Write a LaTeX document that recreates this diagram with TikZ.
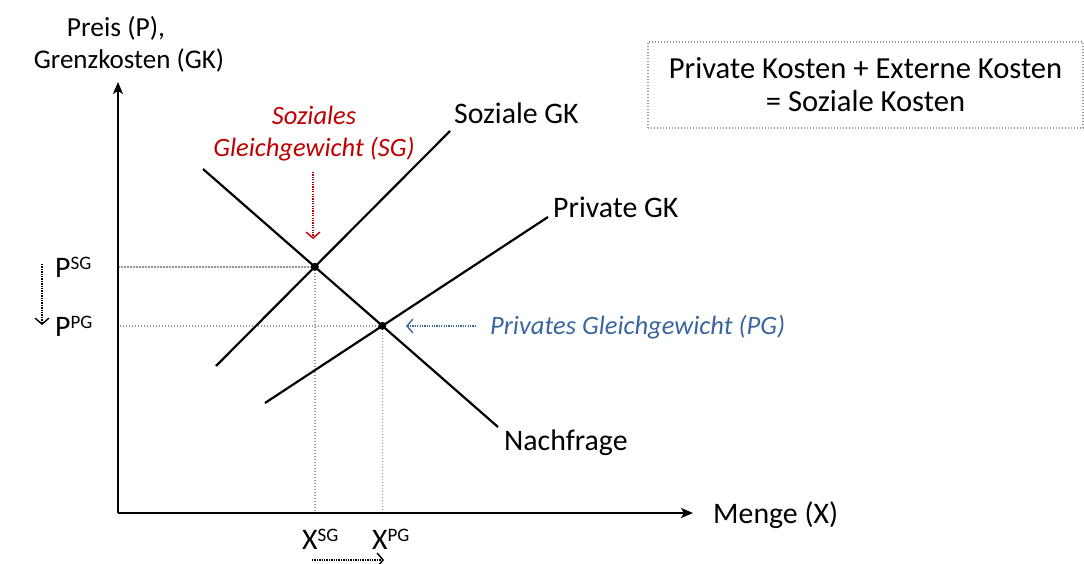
\documentclass[tikz,border=0pt]{standalone}
\usepackage{fontspec}
\setmainfont{Carlito}
\usetikzlibrary{arrows.meta}
\definecolor{sgred}{RGB}{192,0,0}
\definecolor{pgblue}{RGB}{58,102,160}
\definecolor{guidegray}{RGB}{150,150,150}
% superscript in the style of the labels
\newcommand\hochtext[1]{\raisebox{8pt}{\fontsize{19}{19}\selectfont #1}}
\begin{document}
\begin{tikzpicture}[x=1pt,y=-1pt,
  lbl/.style={inner sep=0pt,font=\fontsize{29.8}{32.5}\selectfont},
  note/.style={inner sep=0pt,font=\fontsize{26.5}{32}\selectfont\itshape},
  axis/.style={line width=1.8pt,-{Stealth[length=12pt,width=10pt,inset=3pt]}},
  curve/.style={line width=2.2pt},
  guide/.style={draw=guidegray,line width=1.4pt,dash pattern=on 1.4pt off 1.6pt},
  hint/.style={line width=1.3pt,dash pattern=on 1.3pt off 1.1pt,-{Straight Barb[length=6pt,width=14pt,line width=1.4pt]}},
  eq/.style={circle,fill=black,inner sep=0pt,minimum size=8pt}]
\useasboundingbox (0,0) rectangle (1084,564);

% axes and curve end points
\coordinate (O) at (118,513);
\coordinate (ytop) at (118,82);
\coordinate (xend) at (693,513);
\coordinate (sA) at (216,366); \coordinate (sB) at (450,131);
\coordinate (pA) at (265,403); \coordinate (pB) at (548,217);
\coordinate (dA) at (203,169); \coordinate (dB) at (498,427);

% equilibria
\coordinate (SG) at (intersection of sA--sB and dA--dB);
\coordinate (PG) at (intersection of pA--pB and dA--dB);

% guide lines to the axes
\draw[guide] (SG) -- (SG -| O);
\draw[guide] (PG) -- (PG -| O);
\draw[guide] (SG) -- (SG |- O);
\draw[guide] (PG) -- (PG |- O);

% axes
\draw[axis] (O) -- (ytop);
\draw[axis] (O) -- (xend);

% curves
\draw[curve] (sA) -- (sB);
\draw[curve] (pA) -- (pB);
\draw[curve] (dA) -- (dB);

\node[eq] (sgdot) at (SG) {};
\node[eq] (pgdot) at (PG) {};

% axis titles
\node[lbl,font=\fontsize{27.5}{32}\selectfont] (ytitleA) at (116,28) {Preis (P),};
\node[lbl,font=\fontsize{27}{32}\selectfont] (ytitleB) at (129,60) {Grenzkosten (GK)};
\node[lbl,anchor=west] (xtitle) at (713,515) {Menge (X)};

% curve labels
\node[lbl,anchor=west] (sgk) at (454,113) {Soziale GK};
\node[lbl,anchor=west] (pgk) at (553,207) {Private GK};
\node[lbl,anchor=west] (nf) at (504,443) {Nachfrage};

% price and quantity labels
\node[lbl,anchor=base west] (psg) at (55,277) {P\hochtext{SG}};
\node[lbl,anchor=base west] (ppg) at (55,336) {P\hochtext{PG}};
\node[lbl,anchor=base west] (xsg) at (302,549) {X\hochtext{SG}};
\node[lbl,anchor=base west] (xpg) at (372,549) {X\hochtext{PG}};

\coordinate (pfrom) at (42,264); \coordinate (pto) at (42,325);
\draw[hint] (pfrom) -- (pto);
\coordinate (xfrom) at (312,560); \coordinate (xto) at (384,560);
\draw[hint] (xfrom) -- (xto);

% equilibrium annotations
\node[note,align=center,text=sgred] (sgtext) at (314,134) {Soziales\\Gleichgewicht (SG)};
\coordinate (sgfrom) at (313,172); \coordinate (sgto) at (313,239);
\draw[hint,draw=sgred] (sgfrom) -- (sgto);

\node[note,anchor=west,text=pgblue] (pgtext) at (490,327) {Privates Gleichgewicht (PG)};
\coordinate (pgfrom) at (476,326); \coordinate (pgto) at (406,326);
\draw[hint,draw=pgblue] (pgfrom) -- (pgto);

% cost identity box
\node[lbl,font=\fontsize{30.6}{33}\selectfont,guide,align=center,minimum width=435pt,minimum height=86pt] (costs) at (865.5,85) {Private Kosten + Externe Kosten\\= Soziale Kosten};
\end{tikzpicture}
\end{document}
